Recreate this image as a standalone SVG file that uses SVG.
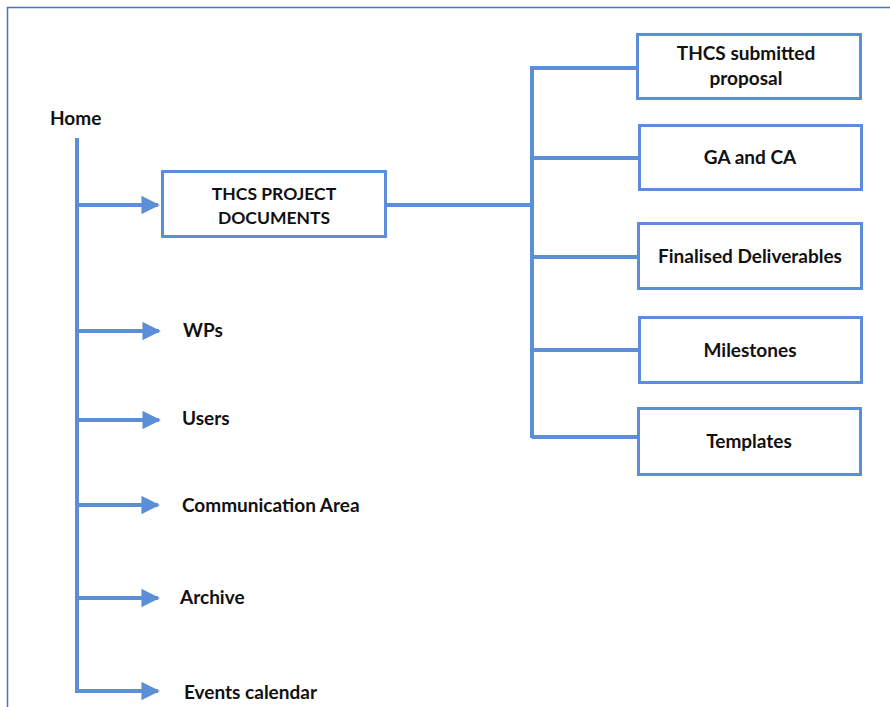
<svg xmlns="http://www.w3.org/2000/svg" width="890" height="707" viewBox="0 0 890 707">
<defs>
<style>
.t{font-family:Lato,"Open Sans","Liberation Sans",sans-serif;font-weight:bold;font-size:19px;fill:#111}
.s{font-size:17.5px}
.box{fill:#fff;stroke:#5b8ed8;stroke-width:3}
.ln{fill:none;stroke:#5b8ed8;stroke-width:4}
</style>
<marker id="ah" viewBox="0 0 10 10" refX="9" refY="5" markerWidth="4.6" markerHeight="4.6" orient="auto" markerUnits="strokeWidth">
<path d="M0,0 L10,5 L0,10 Z" fill="#5b8ed8"/>
</marker>
</defs>
<rect width="890" height="707" fill="#fff"/>
<path d="M7.5,707 V7.5 H890" fill="none" stroke="#4a72c0" stroke-width="1.5"/>
<g id="connectors">
<path class="ln" d="M77,138 V693"/>
<path class="ln" d="M77,205 H158" marker-end="url(#ah)"/>
<path class="ln" d="M77,331 H159" marker-end="url(#ah)"/>
<path class="ln" d="M77,420 H159" marker-end="url(#ah)"/>
<path class="ln" d="M77,505 H158" marker-end="url(#ah)"/>
<path class="ln" d="M77,598 H158" marker-end="url(#ah)"/>
<path class="ln" d="M77,691 H158" marker-end="url(#ah)"/>
<path class="ln" d="M386,205 H532"/>
<path class="ln" d="M532,66 V438"/>
<path class="ln" d="M532,68 H638"/>
<path class="ln" d="M532,158 H639"/>
<path class="ln" d="M532,257 H639"/>
<path class="ln" d="M532,350 H639"/>
<path class="ln" d="M532,437 H638"/>
</g>
<g id="home"><text class="t" x="50" y="125">Home</text></g>
<g id="docs"><rect class="box" x="162.5" y="171.5" width="223" height="65"/>
<text class="t s" x="274" y="200" text-anchor="middle">THCS PROJECT</text>
<text class="t s" x="274" y="224" text-anchor="middle">DOCUMENTS</text></g>
<g id="wps"><text class="t" x="183" y="337">WPs</text></g>
<g id="users"><text class="t" x="182" y="425">Users</text></g>
<g id="comm"><text class="t" x="182" y="512">Communication Area</text></g>
<g id="archive"><text class="t" x="180" y="604">Archive</text></g>
<g id="events"><text class="t" x="184" y="699">Events calendar</text></g>
<g id="proposal"><rect class="box" x="637.5" y="34.5" width="223" height="64"/>
<text class="t" x="746" y="60" text-anchor="middle">THCS submitted</text>
<text class="t" x="746" y="85" text-anchor="middle">proposal</text></g>
<g id="gaca"><rect class="box" x="639.5" y="125.5" width="222" height="64"/>
<text class="t" x="750" y="164" text-anchor="middle">GA and CA</text></g>
<g id="final"><rect class="box" x="638.5" y="223.5" width="223" height="65"/>
<text class="t" x="750" y="263" text-anchor="middle">Finalised Deliverables</text></g>
<g id="milestones"><rect class="box" x="639.5" y="317.5" width="222" height="65"/>
<text class="t" x="750" y="357" text-anchor="middle">Milestones</text></g>
<g id="templates"><rect class="box" x="638.5" y="408.5" width="222" height="66"/>
<text class="t" x="749" y="448" text-anchor="middle">Templates</text></g>
</svg>
